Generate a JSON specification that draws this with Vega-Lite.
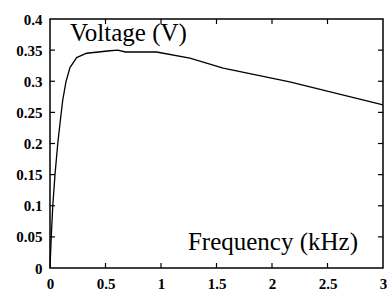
{
  "$schema": "https://vega.github.io/schema/vega-lite/v6.json",
  "autosize": {"type": "none"},
  "width": 333,
  "height": 249,
  "padding": {"left": 50, "top": 19, "right": 4, "bottom": 25},
  "background": "white",
  "config": {
    "view": {"stroke": "black", "strokeWidth": 1.5}
  },
  "datasets": {
    "curve": [
      {"f": 0, "v": 0},
      {"f": 0.01, "v": 0.045},
      {"f": 0.025, "v": 0.1},
      {"f": 0.045, "v": 0.15},
      {"f": 0.07, "v": 0.2},
      {"f": 0.095, "v": 0.24},
      {"f": 0.115, "v": 0.27},
      {"f": 0.145, "v": 0.3},
      {"f": 0.18, "v": 0.322},
      {"f": 0.24, "v": 0.338},
      {"f": 0.33, "v": 0.345},
      {"f": 0.54, "v": 0.349},
      {"f": 0.61, "v": 0.35},
      {"f": 0.68, "v": 0.347},
      {"f": 0.96, "v": 0.347},
      {"f": 1.26, "v": 0.337},
      {"f": 1.56, "v": 0.321},
      {"f": 2.16, "v": 0.299},
      {"f": 3.0, "v": 0.262}
    ],
    "xticks": [{"f": 0.5}, {"f": 1}, {"f": 1.5}, {"f": 2}, {"f": 2.5}],
    "yticks": [{"v": 0.05}, {"v": 0.1}, {"v": 0.15}, {"v": 0.2}, {"v": 0.25}, {"v": 0.3}, {"v": 0.35}],
    "ylab": [{"f": 0.18, "v": 0.365, "t": "Voltage (V)"}],
    "xlab": [{"f": 2.775, "v": 0.029, "t": "Frequency (kHz)"}]
  },
  "resolve": {"axis": {"x": "independent", "y": "independent"}},
  "layer": [
    {
      "data": {"name": "curve"},
      "mark": {"type": "line", "color": "black", "strokeWidth": 1.3},
      "encoding": {
        "x": {"field": "f", "type": "quantitative", "scale": {"domain": [0, 3], "nice": false},
              "axis": {"title": null, "values": [0, 0.5, 1, 1.5, 2, 2.5, 3], "format": ".1~f", "labelPadding": 8, "labelFlush": false,
                       "labelFont": "Liberation Serif", "labelFontWeight": "bold", "labelFontSize": 15, "labelColor": "black",
                       "ticks": false, "domain": false, "grid": false}},
        "y": {"field": "v", "type": "quantitative", "scale": {"domain": [0, 0.4], "nice": false},
              "axis": {"title": null, "values": [0, 0.05, 0.1, 0.15, 0.2, 0.25, 0.3, 0.35, 0.4], "format": ".2~f", "labelPadding": 8,
                       "labelFlush": false, "labelFont": "Liberation Serif", "labelFontWeight": "bold", "labelFontSize": 15,
                       "labelColor": "black", "ticks": false, "domain": false, "grid": false}}
      }
    },
    {
      "data": {"name": "yticks"},
      "mark": {"type": "rule", "color": "black", "strokeWidth": 1.2},
      "encoding": {"y": {"field": "v", "type": "quantitative", "axis": null}, "x": {"datum": 0, "type": "quantitative", "axis": null}, "x2": {"datum": 0.045}}
    },
    {
      "data": {"name": "yticks"},
      "mark": {"type": "rule", "color": "black", "strokeWidth": 1.2},
      "encoding": {"y": {"field": "v", "type": "quantitative", "axis": null}, "x": {"datum": 3, "type": "quantitative", "axis": null}, "x2": {"datum": 2.955}}
    },
    {
      "data": {"name": "xticks"},
      "mark": {"type": "rule", "color": "black", "strokeWidth": 1.2},
      "encoding": {"x": {"field": "f", "type": "quantitative", "axis": null}, "y": {"datum": 0, "type": "quantitative", "axis": null}, "y2": {"datum": 0.008}}
    },
    {
      "data": {"name": "xticks"},
      "mark": {"type": "rule", "color": "black", "strokeWidth": 1.2},
      "encoding": {"x": {"field": "f", "type": "quantitative", "axis": null}, "y": {"datum": 0.4, "type": "quantitative", "axis": null}, "y2": {"datum": 0.392}}
    },
    {
      "data": {"name": "ylab"},
      "mark": {"type": "text", "font": "Liberation Serif", "fontSize": 25, "baseline": "alphabetic", "align": "left", "color": "black"},
      "encoding": {
        "x": {"field": "f", "type": "quantitative", "axis": null},
        "y": {"field": "v", "type": "quantitative", "axis": null},
        "text": {"field": "t"}
      }
    },
    {
      "data": {"name": "xlab"},
      "mark": {"type": "text", "font": "Liberation Serif", "fontSize": 25, "baseline": "alphabetic", "align": "right", "color": "black"},
      "encoding": {
        "x": {"field": "f", "type": "quantitative", "axis": null},
        "y": {"field": "v", "type": "quantitative", "axis": null},
        "text": {"field": "t"}
      }
    }
  ]
}
